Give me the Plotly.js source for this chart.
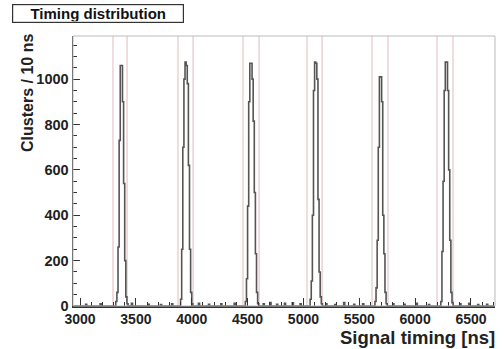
<!DOCTYPE html>
<html><head><meta charset="utf-8">
<script src="https://cdn.plot.ly/plotly-3.0.1.min.js"></script>
<style>body{margin:0;background:#fff}#chart{width:504px;height:349px}</style>
</head><body><div id="chart"></div>
<script>
// Bin width 10 ns
const binWidth = 10;
const peakStarts = [3320, 3900, 4480, 5060, 5640, 6230];
const peak1 = [20, 60, 260, 730, 1060, 1060, 900, 540, 200, 40, 10];
const peak2 = [30, 250, 700, 1000, 1075, 1060, 980, 620, 250, 60, 10];
const peak3 = [20, 120, 440, 900, 1070, 1070, 1000, 815, 500, 230, 60, 10];
const peak4 = [30, 110, 400, 950, 1075, 1070, 1000, 470, 150, 40, 10];
const peak5 = [20, 80, 290, 700, 1010, 1010, 900, 400, 230, 60, 10];
const peak6 = [20, 240, 550, 950, 1075, 1075, 950, 600, 290, 60, 15];
const peaks = [peak1, peak2, peak3, peak4, peak5, peak6];
// sparse baseline noise bins
const noiseT = [3050, 3180, 3460, 3610, 3720, 3820, 4060, 4150, 4260, 4380, 4640, 4700, 4760, 4830, 4900, 4970, 5200, 5280, 5360, 5450, 5530, 5800, 5900, 6010, 6120, 6400, 6480, 6560, 6640];
const noiseC = [8, 10, 12, 8, 6, 10, 12, 8, 10, 12, 10, 15, 8, 12, 14, 10, 10, 6, 15, 8, 10, 10, 8, 12, 6, 10, 12, 6, 8];
// window (cut) lines around each peak
const cutLo = [3295, 3877, 4459, 5032, 5614, 6196];
const cutHi = [3421, 4012, 4603, 5167, 5757, 6339];
const xRange = [2937, 6715];
const yRange = [0, 1190];
const xTicks = [3000, 3500, 4000, 4500, 5000, 5500, 6000, 6500];

const counts = {};
noiseT.forEach((t, i) => { counts[t] = noiseC[i]; });
peaks.forEach((p, k) => p.forEach((c, i) => { counts[peakStarts[k] + i * binWidth] = c; }));
const xs = [], ys = [];
for (let t = 2940; t <= 6710; t += binWidth) { xs.push(t); ys.push(counts[t] || 0); }

const shapes = [];
cutLo.concat(cutHi).forEach(v => shapes.push({type:'line', xref:'x', yref:'paper', x0:v, x1:v, y0:0, y1:1,
  line:{color:'#e3b9bd', width:1}, layer:'below'}));

const fam = 'Liberation Sans, Arial, sans-serif';
const trace = {type:'scatter', mode:'lines', x:xs, y:ys, line:{shape:'hv', color:'#555', width:1.6}, hoverinfo:'x+y'};
const layout = {
  width:504, height:349, paper_bgcolor:'#fff', plot_bgcolor:'#fff',
  margin:{l:73, r:9, t:36, b:43}, showlegend:false, shapes:shapes,
  xaxis:{range:xRange, tickvals:xTicks, ticks:'inside', ticklen:8, tickcolor:'#333',
    tickfont:{family:fam, size:14, color:'#222', weight:'bold'},
    showgrid:false, zeroline:false, showline:true, linecolor:'#333', linewidth:1.5, mirror:false,
    minor:{dtick:100, tick0:0, ticks:'inside', ticklen:4, tickcolor:'#333'}},
  yaxis:{range:yRange, dtick:200, ticks:'inside', ticklen:7, tickcolor:'#333',
    tickfont:{family:fam, size:14.5, color:'#222', weight:'bold'},
    showgrid:false, zeroline:false, showline:true, linecolor:'#333', linewidth:1.5,
    minor:{dtick:50, ticks:'inside', ticklen:4, tickcolor:'#333'}},
  annotations:[
    {text:'Timing distribution', xref:'paper', yref:'paper', x:-0.1445, y:1.084, xanchor:'left', yanchor:'middle',
      showarrow:false, font:{family:fam, size:15, color:'#111', weight:'bold'},
      width:168, height:15, align:'center', bordercolor:'#333', borderwidth:1.2, borderpad:1, bgcolor:'#fff'},
    {text:'Signal timing [ns]', xref:'paper', yref:'paper', x:1.005, y:-0.117, xanchor:'right', yanchor:'middle',
      showarrow:false, font:{family:fam, size:18.5, color:'#222', weight:'bold'}},
    {text:'Clusters / 10 ns', xref:'paper', yref:'paper', x:-0.1066, y:1.015, xanchor:'center', yanchor:'top',
      textangle:-90, showarrow:false, font:{family:fam, size:16, color:'#222', weight:'bold'}}
  ]
};
// plot frame (top/right light border)
layout.shapes.push({type:'rect', xref:'paper', yref:'paper', x0:0, x1:1, y0:0, y1:1, line:{color:'#bbb', width:1}});
Plotly.newPlot('chart', [trace], layout, {displayModeBar:false, staticPlot:true});
</script></body></html>
